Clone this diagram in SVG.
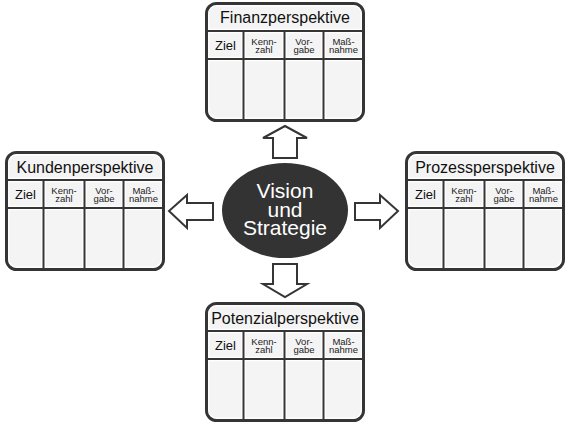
<svg xmlns="http://www.w3.org/2000/svg" width="566" height="424" viewBox="0 0 566 424">
<defs>
<style>
.frame{fill:#f4f4f4;stroke:#353535;stroke-width:3}
.inner{fill:none;stroke:#ffffff;stroke-width:1.2}
.wl{stroke:#ffffff;stroke-width:4.5}
.dl{stroke:#353535;stroke-width:2}
.title{font-family:"Liberation Sans",Arial,sans-serif;font-size:16px;fill:#111;text-anchor:middle}
.ziel{font-family:"Liberation Sans",Arial,sans-serif;font-size:13px;fill:#111;text-anchor:middle}
.sm{font-family:"Liberation Sans",Arial,sans-serif;font-size:9.5px;fill:#222;text-anchor:middle}
.arrow{fill:#ffffff;stroke:#353535;stroke-width:2;stroke-linejoin:miter}
.vs{font-family:"Liberation Sans",Arial,sans-serif;font-size:21px;fill:#ffffff;text-anchor:middle}
</style>
<g id="card">
<rect class="frame" x="0" y="0" width="157" height="117" rx="10" ry="10"/>
<rect class="inner" x="2.3" y="2.3" width="152.4" height="112.4" rx="8" ry="8"/>
<line class="wl" x1="1.5" y1="27.5" x2="155.5" y2="27.5"/>
<line class="wl" x1="1.5" y1="55.5" x2="155.5" y2="55.5"/>
<line class="wl" x1="37" y1="27.5" x2="37" y2="115.5"/>
<line class="wl" x1="78" y1="27.5" x2="78" y2="115.5"/>
<line class="wl" x1="117" y1="27.5" x2="117" y2="115.5"/>
<line class="dl" x1="1.5" y1="27.5" x2="155.5" y2="27.5"/>
<line class="dl" x1="1.5" y1="55.5" x2="155.5" y2="55.5"/>
<line class="dl" x1="37" y1="27.5" x2="37" y2="115.5"/>
<line class="dl" x1="78" y1="27.5" x2="78" y2="115.5"/>
<line class="dl" x1="117" y1="27.5" x2="117" y2="115.5"/>
<text class="ziel" x="19" y="46">Ziel</text>
<text class="sm" x="57.5" y="41.5">Kenn-</text>
<text class="sm" x="57.5" y="49.5">zahl</text>
<text class="sm" x="97.5" y="41.5">Vor-</text>
<text class="sm" x="97.5" y="49.5">gabe</text>
<text class="sm" x="137" y="41.5">Maß-</text>
<text class="sm" x="137" y="49.5">nahme</text>
</g>
</defs>

<g id="connectors">
<polygon class="arrow" points="273,158 273,138 263,138 285,126 307,138 297,138 297,158"/>
<polygon class="arrow" points="273,264 273,284 263,284 285,297 307,284 297,284 297,264"/>
<polygon class="arrow" points="213,203 187,203 187,195 169,211 187,228 187,220 213,220"/>
<polygon class="arrow" points="355,203 380,203 380,195 398,211 380,228 380,220 355,220"/>
</g>

<g id="vision">
<ellipse cx="285" cy="210.5" rx="63" ry="47.5" fill="#333333"/>
<text class="vs" x="285" y="198">Vision<tspan x="285" dy="18.5">und</tspan><tspan x="285" dy="18.5">Strategie</tspan></text>
</g>

<g id="finanz" transform="translate(206.5,3.5)">
<use href="#card"/>
<text class="title" x="78.5" y="19.5">Finanzperspektive</text>
</g>

<g id="kunden" transform="translate(6.5,152.5)">
<use href="#card"/>
<text class="title" x="78.5" y="20">Kundenperspektive</text>
</g>

<g id="prozess" transform="translate(406.5,152.5)">
<use href="#card"/>
<text class="title" x="78.5" y="20">Prozessperspektive</text>
</g>

<g id="potenzial" transform="translate(206.5,303.5)">
<use href="#card"/>
<text class="title" x="78.5" y="20">Potenzialperspektive</text>
</g>
</svg>
